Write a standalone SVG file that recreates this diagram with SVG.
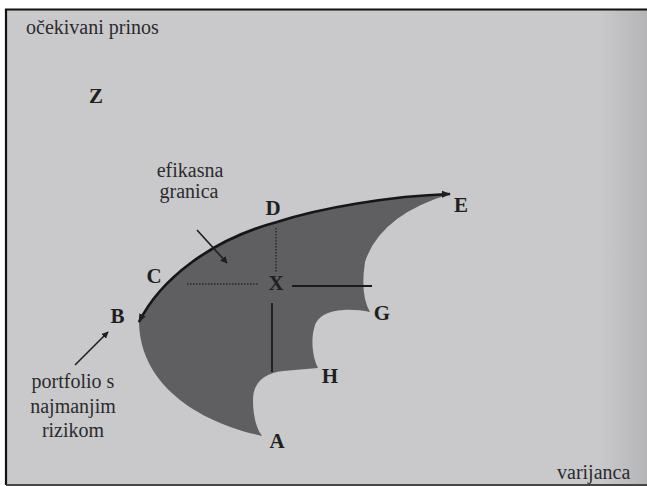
<svg xmlns="http://www.w3.org/2000/svg" width="647" height="486" viewBox="0 0 647 486">
  <style>
    .txt { font-family: "Liberation Serif", "Times New Roman", serif; font-size: 20px; fill: #2b2b2d; }
    .lbl { font-family: "Liberation Serif", "Times New Roman", serif; font-size: 21px; font-weight: bold; fill: #1f1f21; text-anchor: middle; }
    .thin { stroke: #1f1f21; stroke-width: 1.6; fill: none; }
    .dot { stroke: #2a2a2a; stroke-width: 1.5; stroke-dasharray: 1.5 1.5; fill: none; }
    .solid { stroke: #1a1a1a; stroke-width: 1.8; fill: none; }
  </style>
  <defs>
    <marker id="ah" viewBox="0 0 10 10" refX="9" refY="5" markerWidth="7" markerHeight="7" orient="auto" markerUnits="userSpaceOnUse">
      <path d="M0,0 L10,5 L0,10 Z" fill="#1f1f21"/>
    </marker>
    <marker id="ahf" viewBox="0 0 10 10" refX="9" refY="5" markerWidth="9" markerHeight="9" orient="auto" markerUnits="userSpaceOnUse">
      <path d="M0,1 L10,5 L0,9 Z" fill="#1f1f21"/>
    </marker>
    <marker id="ahs" viewBox="0 0 10 10" refX="1" refY="5" markerWidth="9" markerHeight="9" orient="auto" markerUnits="userSpaceOnUse">
      <path d="M10,1 L0,5 L10,9 Z" fill="#1f1f21"/>
    </marker>
    <linearGradient id="shade" x1="0" y1="0" x2="1" y2="0">
      <stop offset="0" stop-color="#000" stop-opacity="0"/>
      <stop offset="1" stop-color="#000" stop-opacity="0.1"/>
    </linearGradient>
  </defs>

  <!-- page / frame -->
  <g id="frame">
    <rect x="0" y="0" width="647" height="486" fill="#ffffff"/>
    <rect x="6" y="9" width="641" height="477" fill="#c9c9cc"/>
    <rect x="600" y="9" width="47" height="477" fill="url(#shade)"/>
    <path d="M6,485 L6,9.5 L647,9.5" stroke="#111" stroke-width="2.2" fill="none"/>
    <line x1="6" y1="485" x2="647" y2="485" stroke="#444" stroke-width="2"/>
  </g>

  <!-- feasible region -->
  <g id="region">
    <path d="M139,322 C160,280 210,240 277,222 C320,208 390,196 450,194 Q380,215 365,262 Q360,295 370,312 C350,308 322,308 315,325 C310,340 313,358 318,368 L283,371 C265,373 253,382 253,400 C253,415 256,428 262,436 C190,420 140,380 139,322 Z" fill="#5f5f62"/>
  </g>

  <!-- connectors -->
  <g id="connectors">
    <path id="frontier" d="M139,322 C160,280 210,240 277,222 C320,208 390,196 450,194" stroke="#161618" stroke-width="2.7" fill="none" marker-start="url(#ahs)" marker-end="url(#ahf)"/>
    <line class="dot" x1="187" y1="284" x2="258" y2="284"/>
    <line class="dot" x1="276" y1="228" x2="276" y2="273"/>
    <line class="solid" x1="292" y1="286" x2="372" y2="286"/>
    <line class="solid" x1="272" y1="303" x2="272" y2="372"/>
    <line class="thin" x1="197" y1="230" x2="227" y2="263" marker-end="url(#ah)"/>
    <line class="thin" x1="75" y1="365" x2="108" y2="332" marker-end="url(#ah)"/>
  </g>

  <!-- axis labels and notes -->
  <g id="axis-y"><text class="txt" x="26" y="34">očekivani prinos</text></g>
  <g id="axis-x"><text class="txt" x="557" y="479" font-size="22">varijanca</text></g>
  <g id="note-efikasna">
    <text class="txt" x="190" y="177" text-anchor="middle">efikasna</text>
    <text class="txt" x="189" y="198" text-anchor="middle">granica</text>
  </g>
  <g id="note-portfolio">
    <text class="txt" x="73" y="388" text-anchor="middle" font-size="21">portfolio s</text>
    <text class="txt" x="73" y="413" text-anchor="middle" font-size="21">najmanjim</text>
    <text class="txt" x="73" y="437" text-anchor="middle" font-size="21">rizikom</text>
  </g>

  <!-- point labels -->
  <g id="Z"><text class="lbl" x="96" y="103">Z</text></g>
  <g id="B"><text class="lbl" x="117.5" y="323">B</text></g>
  <g id="C"><text class="lbl" x="154" y="283">C</text></g>
  <g id="D"><text class="lbl" x="273" y="215">D</text></g>
  <g id="E"><text class="lbl" x="461" y="212">E</text></g>
  <g id="X"><text class="lbl" x="276" y="290" font-weight="normal">X</text></g>
  <g id="G"><text class="lbl" x="382" y="320">G</text></g>
  <g id="H"><text class="lbl" x="330" y="383">H</text></g>
  <g id="A"><text class="lbl" x="277" y="448">A</text></g>
</svg>
